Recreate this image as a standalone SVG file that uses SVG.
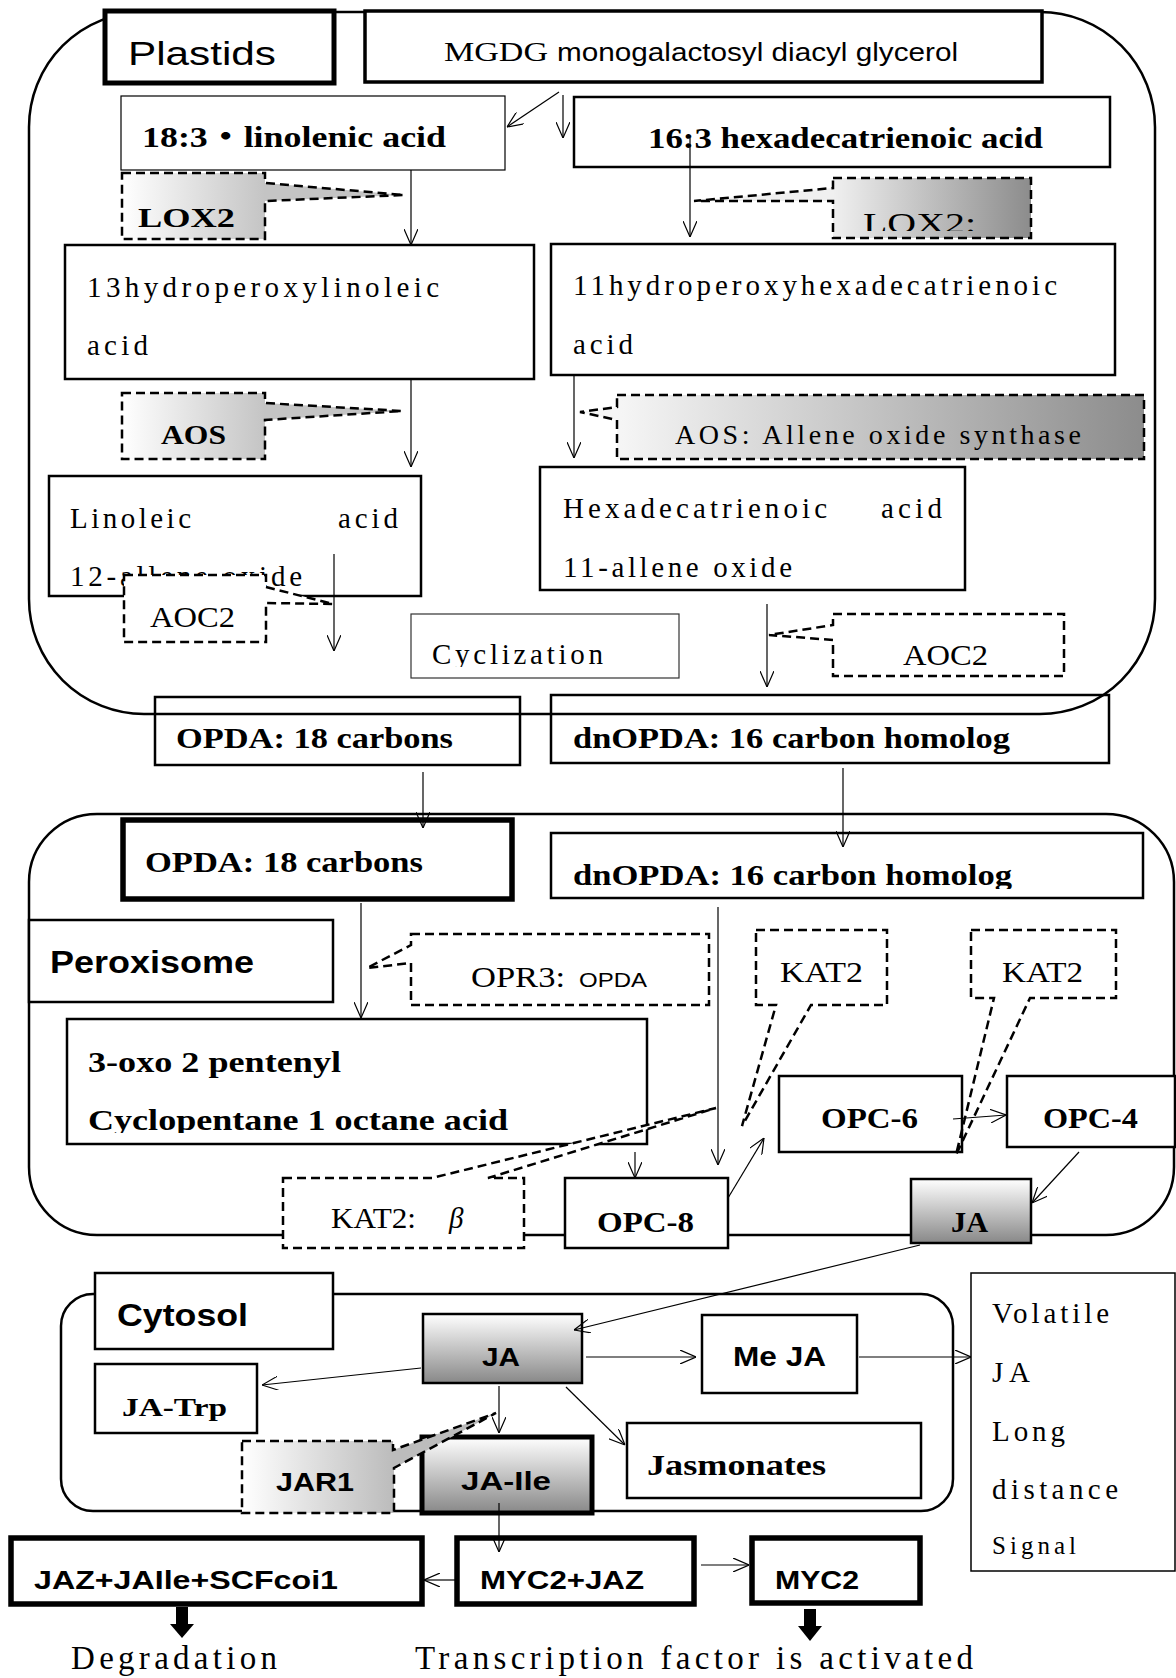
<svg xmlns="http://www.w3.org/2000/svg" width="1176" height="1678" viewBox="0 0 1176 1678">
<style>
.bg{fill:#fff}
.outline{fill:none;stroke:#000;stroke-width:2.5}
.box{fill:#fff;stroke:#000;stroke-width:2.5}
.open{fill:none;stroke:#000;stroke-width:2.5}
.thin{fill:#fff;stroke:#000;stroke-width:1.2}
.thick{fill:#fff;stroke:#000;stroke-width:5.5}
.w5{stroke-width:5}
.w35{stroke-width:3.5}
.w15{stroke-width:1.5}
.gray{stroke:#333}
.gv{fill:url(#gV)}
.dash{stroke:#000;stroke-width:2.5;stroke-dasharray:9 5;stroke-linejoin:miter}
.con{fill:none;stroke:#000;stroke-width:1.2;marker-end:url(#ah)}
.serif{font-family:'Liberation Serif','Noto Sans CJK JP',serif}
.sans{font-family:'Liberation Sans','Noto Sans CJK JP',sans-serif}
.b{font-weight:bold}
text{fill:#000}
</style>
<defs>
<marker id="ah" viewBox="0 0 16 14" refX="16" refY="7" markerWidth="16" markerHeight="14" markerUnits="userSpaceOnUse" orient="auto">
<path d="M0,0 L16,7 L0,14" fill="none" stroke="#000" stroke-width="1.2"/>
</marker>
<linearGradient id="gL" gradientUnits="userSpaceOnUse" x1="122" y1="0" x2="265" y2="0"><stop offset="0" stop-color="#ffffff"/><stop offset="1" stop-color="#c4c4c4"/></linearGradient>
<linearGradient id="gLoxR" gradientUnits="userSpaceOnUse" x1="833" y1="0" x2="1031" y2="0"><stop offset="0" stop-color="#f0f0f0"/><stop offset="1" stop-color="#8c8c8c"/></linearGradient>
<linearGradient id="gAosR" gradientUnits="userSpaceOnUse" x1="617" y1="0" x2="1144" y2="0"><stop offset="0" stop-color="#f6f6f6"/><stop offset="1" stop-color="#8c8c8c"/></linearGradient>
<linearGradient id="gJAR" gradientUnits="userSpaceOnUse" x1="242" y1="0" x2="393" y2="0"><stop offset="0" stop-color="#ffffff"/><stop offset="1" stop-color="#bcbcbc"/></linearGradient>
<linearGradient id="gV" x1="0" y1="0" x2="0" y2="1"><stop offset="0" stop-color="#ffffff"/><stop offset="1" stop-color="#888888"/></linearGradient>
<clipPath id="cLox"><rect x="833" y="178" width="198" height="53"/></clipPath>
<clipPath id="cCyc"><rect x="411" y="614" width="268" height="53"/></clipPath>
<clipPath id="cDn"><rect x="551" y="833" width="592" height="56"/></clipPath>
<clipPath id="cCyp"><rect x="67" y="1019" width="580" height="114"/></clipPath>
</defs>
<rect class="bg" x="0" y="0" width="1176" height="1678"/>

<!-- compartments -->
<g id="plastid-compartment"><rect class="outline" x="29" y="12" width="1126" height="702" rx="115" ry="115"/></g>
<g id="peroxisome-compartment"><rect class="outline" x="29" y="814" width="1145" height="421" rx="68" ry="68"/></g>
<g id="cytosol-compartment"><rect class="outline" x="61" y="1294" width="892" height="217" rx="32" ry="32"/></g>

<!-- plastid nodes -->
<g id="plastids-label"><rect class="box w5" x="105" y="11" width="229" height="72"/><text class="sans" x="128" y="65" font-size="34" textLength="148" lengthAdjust="spacingAndGlyphs">Plastids</text></g>
<g id="mgdg"><rect class="box w35" x="365" y="11" width="677" height="71"/><text class="serif" x="444" y="61" font-size="28" textLength="104" lengthAdjust="spacingAndGlyphs">MGDG</text><text class="sans" x="557" y="61" font-size="26" textLength="401" lengthAdjust="spacingAndGlyphs">monogalactosyl diacyl glycerol</text></g>
<g id="linolenic"><rect class="thin" x="121" y="96" width="384" height="74"/><text class="serif b" x="142" y="147" font-size="29" textLength="304" lengthAdjust="spacingAndGlyphs">18:3・linolenic acid</text></g>
<g id="hexadecatrienoic"><rect class="box" x="574" y="97" width="536" height="70"/><text class="serif b" x="648" y="148" font-size="29" textLength="395" lengthAdjust="spacingAndGlyphs">16:3 hexadecatrienoic acid</text></g>
<g id="hpl13"><rect class="box" x="65" y="245" width="469" height="134"/><text class="serif" x="87" y="297" font-size="29" textLength="352">13hydroperoxylinoleic</text><text class="serif" x="87" y="355" font-size="29" textLength="61">acid</text></g>
<g id="hphd11"><rect class="box" x="551" y="244" width="564" height="131"/><text class="serif" x="573" y="295" font-size="29" textLength="484">11hydroperoxyhexadecatrienoic</text><text class="serif" x="573" y="354" font-size="29" textLength="60">acid</text></g>
<g id="linoleic-oxide"><rect class="box" x="49" y="476" width="372" height="120"/><text class="serif" x="70" y="528" font-size="29" textLength="121">Linoleic</text><text class="serif" x="338" y="528" font-size="29" textLength="60">acid</text><text class="serif" x="70" y="586" font-size="29" textLength="232">12-allene oxide</text></g>
<g id="hexa-oxide"><rect class="box" x="540" y="467" width="425" height="123"/><text class="serif" x="563" y="518" font-size="29" textLength="264">Hexadecatrienoic</text><text class="serif" x="881" y="518" font-size="29" textLength="61">acid</text><text class="serif" x="563" y="577" font-size="29" textLength="229">11-allene oxide</text></g>
<g id="cyclization"><rect class="thin gray" x="411" y="614" width="268" height="64"/><text class="serif" x="432" y="664" font-size="29" textLength="171" clip-path="url(#cCyc)">Cyclization</text></g>
<g id="opda-plastid"><rect class="open" x="155" y="697" width="365" height="68"/><text class="serif b" x="176" y="748" font-size="29" textLength="277" lengthAdjust="spacingAndGlyphs">OPDA: 18 carbons</text></g>
<g id="dnopda-plastid"><rect class="open" x="551" y="695" width="558" height="68"/><text class="serif b" x="573" y="748" font-size="29" textLength="437" lengthAdjust="spacingAndGlyphs">dnOPDA: 16 carbon homolog</text></g>

<!-- peroxisome nodes -->
<g id="opda-perox"><rect class="thick" x="123" y="820" width="389" height="79"/><text class="serif b" x="145" y="872" font-size="29" textLength="278" lengthAdjust="spacingAndGlyphs">OPDA: 18 carbons</text></g>
<g id="dnopda-perox"><rect class="box" x="551" y="833" width="592" height="65"/><text class="serif b" x="573" y="885" font-size="29" textLength="439" lengthAdjust="spacingAndGlyphs" clip-path="url(#cDn)">dnOPDA: 16 carbon homolog</text></g>
<g id="peroxisome-label"><rect class="box" x="29" y="920" width="304" height="82"/><text class="sans b" x="50" y="973" font-size="31" textLength="204" lengthAdjust="spacingAndGlyphs">Peroxisome</text></g>
<g id="oxo-pentenyl"><rect class="box" x="67" y="1019" width="580" height="125"/><text class="serif b" x="88" y="1072" font-size="29" textLength="253" lengthAdjust="spacingAndGlyphs">3-oxo 2 pentenyl</text><text class="serif b" x="88" y="1130" font-size="29" textLength="420" lengthAdjust="spacingAndGlyphs" clip-path="url(#cCyp)">Cyclopentane 1 octane acid</text></g>
<g id="opc6"><rect class="box" x="779" y="1076" width="183" height="76"/><text class="serif b" x="821" y="1128" font-size="30" textLength="97" lengthAdjust="spacingAndGlyphs">OPC-6</text></g>
<g id="opc4"><rect class="box" x="1007" y="1076" width="168" height="71"/><text class="serif b" x="1043" y="1128" font-size="30" textLength="95" lengthAdjust="spacingAndGlyphs">OPC-4</text></g>
<g id="opc8"><rect class="box" x="565" y="1178" width="163" height="70"/><text class="serif b" x="597" y="1232" font-size="30" textLength="97" lengthAdjust="spacingAndGlyphs">OPC-8</text></g>
<g id="ja-perox"><rect class="box gv" x="911" y="1179" width="120" height="64"/><text class="serif b" x="951" y="1232" font-size="30" textLength="37" lengthAdjust="spacingAndGlyphs">JA</text></g>

<!-- cytosol nodes -->
<g id="cytosol-label"><rect class="box" x="95" y="1273" width="238" height="76"/><text class="sans b" x="117" y="1326" font-size="31" textLength="131" lengthAdjust="spacingAndGlyphs">Cytosol</text></g>
<g id="ja-cyt"><rect class="box gv" x="423" y="1314" width="159" height="69"/><text class="sans b" x="482" y="1366" font-size="25" textLength="38" lengthAdjust="spacingAndGlyphs">JA</text></g>
<g id="meja"><rect class="box" x="702" y="1315" width="155" height="78"/><text class="sans b" x="733" y="1366" font-size="27" textLength="93" lengthAdjust="spacingAndGlyphs">Me JA</text></g>
<g id="ja-trp"><rect class="box" x="95" y="1364" width="162" height="69"/><text class="serif b" x="122" y="1416" font-size="26" textLength="105" lengthAdjust="spacingAndGlyphs">JA-Trp</text></g>
<g id="ja-ile"><rect class="box w5 gv" x="422" y="1437" width="170" height="76"/><text class="sans b" x="461" y="1490" font-size="26" textLength="90" lengthAdjust="spacingAndGlyphs">JA-Ile</text></g>
<g id="jasmonates"><rect class="box" x="627" y="1423" width="294" height="75"/><text class="serif b" x="647" y="1475" font-size="29" textLength="179" lengthAdjust="spacingAndGlyphs">Jasmonates</text></g>
<g id="volatile"><rect class="box w15" x="971" y="1273" width="204" height="298"/>
<text class="serif" x="992" y="1323" font-size="29" textLength="117">Volatile</text>
<text class="serif" x="992" y="1382" font-size="29" textLength="38">JA</text>
<text class="serif" x="992" y="1441" font-size="29" textLength="73">Long</text>
<text class="serif" x="992" y="1499" font-size="29" textLength="126">distance</text>
<text class="serif" x="992" y="1554" font-size="25" textLength="84">Signal</text></g>
<g id="jaz-complex"><rect class="thick" x="11" y="1538" width="411" height="66"/><text class="sans b" x="34" y="1589" font-size="26" textLength="304" lengthAdjust="spacingAndGlyphs">JAZ+JAIle+SCFcoi1</text></g>
<g id="myc2-jaz"><rect class="thick" x="457" y="1538" width="237" height="66"/><text class="sans b" x="480" y="1589" font-size="26" textLength="164" lengthAdjust="spacingAndGlyphs">MYC2+JAZ</text></g>
<g id="myc2"><rect class="thick" x="752" y="1538" width="168" height="65"/><text class="sans b" x="775" y="1589" font-size="26" textLength="84" lengthAdjust="spacingAndGlyphs">MYC2</text></g>
<g id="degradation"><rect x="176" y="1607" width="12" height="18"/><polygon points="170,1624 194,1624 182,1638"/><text class="serif" x="71" y="1669" font-size="33" textLength="206">Degradation</text></g>
<g id="activated"><rect x="804" y="1609" width="12" height="18"/><polygon points="798,1626 822,1626 810,1641"/><text class="serif" x="415" y="1669" font-size="33" textLength="558">Transcription factor is activated</text></g>

<!-- connectors -->
<g id="connectors">
<line class="con" x1="559" y1="92" x2="507" y2="127"/>
<line class="con" x1="563" y1="95" x2="563" y2="138"/>
<line class="con" x1="411" y1="170" x2="411" y2="245"/>
<line class="con" x1="690" y1="138" x2="690" y2="237"/>
<line class="con" x1="411" y1="379" x2="411" y2="467"/>
<line class="con" x1="574" y1="375" x2="574" y2="458"/>
<line class="con" x1="334" y1="554" x2="334" y2="651"/>
<line class="con" x1="767" y1="604" x2="767" y2="687"/>
<line class="con" x1="423" y1="772" x2="423" y2="828"/>
<line class="con" x1="843" y1="768" x2="843" y2="847"/>
<line class="con" x1="361" y1="903" x2="361" y2="1018"/>
<line class="con" x1="718" y1="907" x2="718" y2="1165"/>
<line class="con" x1="635" y1="1152" x2="635" y2="1178"/>
<line class="con" x1="728" y1="1198" x2="764" y2="1138"/>
<line class="con" x1="953" y1="1119" x2="1006" y2="1115"/>
<line class="con" x1="1079" y1="1152" x2="1032" y2="1203"/>
<line class="con" x1="920" y1="1245" x2="574" y2="1330"/>
<line class="con" x1="586" y1="1357" x2="696" y2="1357"/>
<line class="con" x1="859" y1="1357" x2="971" y2="1357"/>
<line class="con" x1="421" y1="1368" x2="262" y2="1385"/>
<line class="con" x1="499" y1="1386" x2="499" y2="1433"/>
<line class="con" x1="566" y1="1387" x2="625" y2="1445"/>
<line class="con" x1="499" y1="1503" x2="499" y2="1552"/>
<line class="con" x1="455" y1="1580" x2="424" y2="1580"/>
<line class="con" x1="701" y1="1565" x2="749" y2="1565"/>
</g>

<!-- enzyme callouts -->
<g id="lox2-left"><path class="dash" d="M122,173 H265 V183 L404,195 L265,201 V239 H122 Z" fill="url(#gL)"/><text class="serif b" x="138" y="227" font-size="28" textLength="97" lengthAdjust="spacingAndGlyphs">LOX2</text></g>
<g id="lox2-right"><path class="dash" d="M833,178 H1031 V238 H833 V201 L694,201 L833,188 Z" fill="url(#gLoxR)"/><text class="serif" x="863" y="233" font-size="30" textLength="113" lengthAdjust="spacingAndGlyphs" clip-path="url(#cLox)">LOX2:</text></g>
<g id="aos-left"><path class="dash" d="M122,393 H265 V403 L402,411 L265,420 V459 H122 Z" fill="url(#gL)"/><text class="serif b" x="161" y="444" font-size="27" textLength="65" lengthAdjust="spacingAndGlyphs">AOS</text></g>
<g id="aos-right"><path class="dash" d="M617,395 H1144 V459 H617 V420 L580,412 L617,407 Z" fill="url(#gAosR)"/><text class="serif" x="675" y="444" font-size="28" textLength="406">AOS: Allene oxide synthase</text></g>
<g id="aoc2-left"><path class="dash" d="M124,575 H266 V587 L333,604 L266,603 V642 H124 Z" fill="#fff"/><text class="serif" x="150" y="627" font-size="29" textLength="85" lengthAdjust="spacingAndGlyphs">AOC2</text></g>
<g id="aoc2-right"><path class="dash" d="M833,614 H1064 V676 H833 V640 L769,635 L833,625 Z" fill="#fff"/><text class="serif" x="903" y="665" font-size="29" textLength="85" lengthAdjust="spacingAndGlyphs">AOC2</text></g>
<g id="opr3"><path class="dash" d="M411,934 H709 V1005 H411 V963 L367,968 L411,945 Z" fill="#fff"/><text class="serif" x="471" y="987" font-size="29" textLength="94" lengthAdjust="spacingAndGlyphs">OPR3:</text><text class="sans" x="579" y="987" font-size="21" textLength="68" lengthAdjust="spacingAndGlyphs">OPDA</text></g>
<g id="kat2-a"><path class="dash" d="M756,930 H887 V1005 H811 L742,1126 L776,1005 H756 Z" fill="none"/><text class="serif" x="780" y="982" font-size="29" textLength="83" lengthAdjust="spacingAndGlyphs">KAT2</text></g>
<g id="kat2-b"><path class="dash" d="M971,930 H1116 V998 H1030 L956,1155 L994,998 H971 Z" fill="none"/><text class="serif" x="1002" y="982" font-size="29" textLength="81" lengthAdjust="spacingAndGlyphs">KAT2</text></g>
<g id="kat2-beta"><path class="dash" d="M283,1178 H432 L716,1108 L488,1178 H524 V1248 H283 Z" fill="#fff"/><text class="serif" x="331" y="1228" font-size="29" textLength="85" lengthAdjust="spacingAndGlyphs">KAT2:</text><text class="serif" x="449" y="1228" font-size="29" font-style="italic">β</text></g>
<g id="jar1"><path class="dash" d="M242,1441 H393 V1450 L496,1413 L394,1468 V1513 H242 Z" fill="url(#gJAR)"/><text class="sans b" x="276" y="1491" font-size="25" textLength="78" lengthAdjust="spacingAndGlyphs">JAR1</text></g>
</svg>
